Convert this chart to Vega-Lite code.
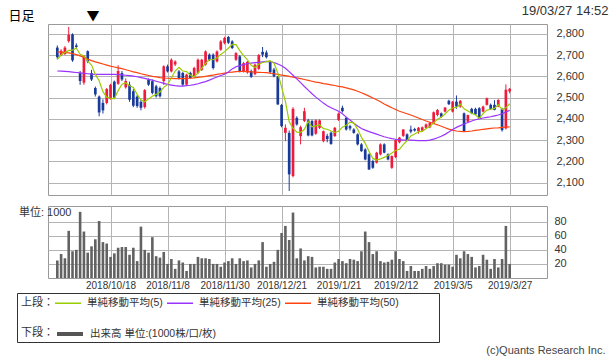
{
"$schema":"https://vega.github.io/schema/vega-lite/v6.json",
"background":"white",
"padding":{"left":7,"top":3,"right":0,"bottom":0},
"bounds":"flush",
"spacing":11,
"title":{"text":"(c)Quants Research Inc.","orient":"bottom","anchor":"end","frame":"bounds","fontSize":11,"fontWeight":"normal","color":"#444","offset":2,"dx":-3,"font":"Liberation Sans"},
"datasets":{"px":[
{"i":0,"d":"2018/09/27","o":2735,"h":2745,"l":2680,"c":2690,"v":25,"m5":2680,"m25":2625,"m50":2715},
{"i":1,"d":"2018/09/28","o":2700,"h":2728,"l":2695,"c":2720,"v":34,"m5":2700,"m25":2624,"m50":2714},
{"i":2,"d":"2018/10/01","o":2705,"h":2742,"l":2700,"c":2735,"v":28,"m5":2712,"m25":2623,"m50":2712},
{"i":3,"d":"2018/10/02","o":2765,"h":2832,"l":2758,"c":2795,"v":67,"m5":2722,"m25":2622,"m50":2710},
{"i":4,"d":"2018/10/03","o":2797,"h":2802,"l":2668,"c":2675,"v":38,"m5":2723,"m25":2620,"m50":2707},
{"i":5,"d":"2018/10/04","o":2745,"h":2755,"l":2728,"c":2738,"v":40,"m5":2733,"m25":2618,"m50":2702},
{"i":6,"d":"2018/10/05","o":2615,"h":2625,"l":2560,"c":2578,"v":94,"m5":2704,"m25":2616,"m50":2696},
{"i":7,"d":"2018/10/09","o":2570,"h":2700,"l":2560,"c":2695,"v":66,"m5":2696,"m25":2614,"m50":2689},
{"i":8,"d":"2018/10/10","o":2718,"h":2722,"l":2662,"c":2670,"v":36,"m5":2671,"m25":2612,"m50":2681},
{"i":9,"d":"2018/10/11","o":2615,"h":2630,"l":2578,"c":2585,"v":45,"m5":2653,"m25":2610,"m50":2674},
{"i":10,"d":"2018/10/12","o":2545,"h":2552,"l":2505,"c":2515,"v":55,"m5":2609,"m25":2609,"m50":2668},
{"i":11,"d":"2018/10/15","o":2505,"h":2510,"l":2412,"c":2430,"v":81,"m5":2579,"m25":2609,"m50":2663},
{"i":12,"d":"2018/10/16","o":2475,"h":2492,"l":2425,"c":2440,"v":51,"m5":2528,"m25":2609,"m50":2658},
{"i":13,"d":"2018/10/17","o":2475,"h":2545,"l":2468,"c":2540,"v":49,"m5":2502,"m25":2609,"m50":2653},
{"i":14,"d":"2018/10/18","o":2495,"h":2565,"l":2490,"c":2560,"v":30,"m5":2497,"m25":2609,"m50":2648},
{"i":15,"d":"2018/10/19","o":2575,"h":2580,"l":2495,"c":2500,"v":35,"m5":2494,"m25":2609,"m50":2644},
{"i":16,"d":"2018/10/22","o":2565,"h":2652,"l":2560,"c":2625,"v":43,"m5":2533,"m25":2608,"m50":2640},
{"i":17,"d":"2018/10/23","o":2615,"h":2625,"l":2578,"c":2585,"v":44,"m5":2562,"m25":2607,"m50":2636},
{"i":18,"d":"2018/10/24","o":2548,"h":2590,"l":2542,"c":2578,"v":44,"m5":2570,"m25":2605,"m50":2631},
{"i":19,"d":"2018/10/25","o":2560,"h":2575,"l":2480,"c":2490,"v":33,"m5":2556,"m25":2603,"m50":2626},
{"i":20,"d":"2018/10/26","o":2530,"h":2540,"l":2455,"c":2462,"v":43,"m5":2548,"m25":2601,"m50":2621},
{"i":21,"d":"2018/10/29","o":2505,"h":2512,"l":2452,"c":2460,"v":24,"m5":2515,"m25":2598,"m50":2617},
{"i":22,"d":"2018/10/30","o":2480,"h":2490,"l":2440,"c":2452,"v":73,"m5":2488,"m25":2594,"m50":2612},
{"i":23,"d":"2018/10/31","o":2455,"h":2540,"l":2448,"c":2535,"v":40,"m5":2480,"m25":2590,"m50":2608},
{"i":24,"d":"2018/11/01","o":2584,"h":2590,"l":2555,"c":2561,"v":36,"m5":2494,"m25":2586,"m50":2604},
{"i":25,"d":"2018/11/02","o":2577,"h":2585,"l":2515,"c":2522,"v":58,"m5":2506,"m25":2582,"m50":2600},
{"i":26,"d":"2018/11/05","o":2553,"h":2560,"l":2500,"c":2506,"v":31,"m5":2515,"m25":2577,"m50":2597},
{"i":27,"d":"2018/11/06","o":2545,"h":2552,"l":2500,"c":2506,"v":29,"m5":2526,"m25":2572,"m50":2594},
{"i":28,"d":"2018/11/07","o":2577,"h":2652,"l":2560,"c":2647,"v":37,"m5":2548,"m25":2567,"m50":2592},
{"i":29,"d":"2018/11/08","o":2647,"h":2655,"l":2618,"c":2623,"v":20,"m5":2561,"m25":2562,"m50":2591},
{"i":30,"d":"2018/11/09","o":2623,"h":2685,"l":2618,"c":2678,"v":27,"m5":2592,"m25":2559,"m50":2590},
{"i":31,"d":"2018/11/12","o":2655,"h":2675,"l":2648,"c":2670,"v":13,"m5":2625,"m25":2556,"m50":2589},
{"i":32,"d":"2018/11/13","o":2623,"h":2630,"l":2585,"c":2592,"v":25,"m5":2642,"m25":2554,"m50":2589},
{"i":33,"d":"2018/11/14","o":2616,"h":2620,"l":2555,"c":2561,"v":22,"m5":2625,"m25":2554,"m50":2589},
{"i":34,"d":"2018/11/15","o":2561,"h":2612,"l":2555,"c":2608,"v":10,"m5":2622,"m25":2556,"m50":2590},
{"i":35,"d":"2018/11/16","o":2616,"h":2622,"l":2588,"c":2592,"v":20,"m5":2605,"m25":2558,"m50":2591},
{"i":36,"d":"2018/11/19","o":2600,"h":2645,"l":2595,"c":2639,"v":20,"m5":2598,"m25":2561,"m50":2593},
{"i":37,"d":"2018/11/20","o":2616,"h":2684,"l":2610,"c":2678,"v":30,"m5":2616,"m25":2565,"m50":2595},
{"i":38,"d":"2018/11/21","o":2631,"h":2682,"l":2625,"c":2678,"v":28,"m5":2639,"m25":2570,"m50":2597},
{"i":39,"d":"2018/11/22","o":2655,"h":2722,"l":2650,"c":2717,"v":28,"m5":2661,"m25":2575,"m50":2600},
{"i":40,"d":"2018/11/26","o":2702,"h":2708,"l":2672,"c":2678,"v":27,"m5":2678,"m25":2582,"m50":2603},
{"i":41,"d":"2018/11/27","o":2702,"h":2708,"l":2632,"c":2639,"v":20,"m5":2678,"m25":2590,"m50":2606},
{"i":42,"d":"2018/11/28","o":2670,"h":2722,"l":2665,"c":2717,"v":20,"m5":2686,"m25":2597,"m50":2609},
{"i":43,"d":"2018/11/29","o":2725,"h":2770,"l":2720,"c":2764,"v":16,"m5":2703,"m25":2604,"m50":2612},
{"i":44,"d":"2018/11/30","o":2756,"h":2786,"l":2750,"c":2780,"v":22,"m5":2716,"m25":2610,"m50":2615},
{"i":45,"d":"2018/12/03","o":2785,"h":2790,"l":2752,"c":2758,"v":24,"m5":2732,"m25":2620,"m50":2618},
{"i":46,"d":"2018/12/04","o":2764,"h":2770,"l":2728,"c":2733,"v":28,"m5":2750,"m25":2635,"m50":2620},
{"i":47,"d":"2018/12/05","o":2678,"h":2714,"l":2672,"c":2709,"v":20,"m5":2749,"m25":2645,"m50":2622},
{"i":48,"d":"2018/12/06","o":2694,"h":2700,"l":2618,"c":2623,"v":28,"m5":2721,"m25":2650,"m50":2623},
{"i":49,"d":"2018/12/07","o":2623,"h":2668,"l":2618,"c":2662,"v":24,"m5":2697,"m25":2655,"m50":2623},
{"i":50,"d":"2018/12/10","o":2618,"h":2672,"l":2612,"c":2668,"v":25,"m5":2679,"m25":2660,"m50":2622},
{"i":51,"d":"2018/12/11","o":2625,"h":2632,"l":2592,"c":2598,"v":15,"m5":2652,"m25":2662,"m50":2621},
{"i":52,"d":"2018/12/12","o":2610,"h":2660,"l":2605,"c":2655,"v":20,"m5":2641,"m25":2664,"m50":2620},
{"i":53,"d":"2018/12/13","o":2635,"h":2705,"l":2630,"c":2700,"v":25,"m5":2657,"m25":2666,"m50":2619},
{"i":54,"d":"2018/12/14","o":2715,"h":2738,"l":2690,"c":2702,"v":51,"m5":2665,"m25":2668,"m50":2618},
{"i":55,"d":"2018/12/17","o":2712,"h":2722,"l":2684,"c":2690,"v":16,"m5":2669,"m25":2670,"m50":2617},
{"i":56,"d":"2018/12/18","o":2668,"h":2675,"l":2612,"c":2620,"v":20,"m5":2673,"m25":2669,"m50":2615},
{"i":57,"d":"2018/12/19","o":2632,"h":2640,"l":2595,"c":2600,"v":23,"m5":2662,"m25":2665,"m50":2612},
{"i":58,"d":"2018/12/20","o":2598,"h":2602,"l":2465,"c":2468,"v":40,"m5":2616,"m25":2658,"m50":2609},
{"i":59,"d":"2018/12/21","o":2465,"h":2470,"l":2360,"c":2366,"v":64,"m5":2549,"m25":2650,"m50":2606},
{"i":60,"d":"2018/12/25","o":2334,"h":2374,"l":2295,"c":2358,"v":74,"m5":2482,"m25":2638,"m50":2603},
{"i":61,"d":"2018/12/26","o":2334,"h":2345,"l":2061,"c":2139,"v":54,"m5":2386,"m25":2622,"m50":2600},
{"i":62,"d":"2018/12/27","o":2131,"h":2455,"l":2125,"c":2447,"v":93,"m5":2356,"m25":2605,"m50":2596},
{"i":63,"d":"2018/12/28","o":2405,"h":2412,"l":2368,"c":2374,"v":28,"m5":2337,"m25":2588,"m50":2593},
{"i":64,"d":"2019/01/04","o":2319,"h":2368,"l":2280,"c":2361,"v":42,"m5":2336,"m25":2570,"m50":2589},
{"i":65,"d":"2019/01/07","o":2390,"h":2452,"l":2385,"c":2436,"v":25,"m5":2351,"m25":2552,"m50":2585},
{"i":66,"d":"2019/01/08","o":2393,"h":2400,"l":2318,"c":2322,"v":31,"m5":2388,"m25":2535,"m50":2581},
{"i":67,"d":"2019/01/09","o":2390,"h":2396,"l":2318,"c":2322,"v":30,"m5":2363,"m25":2518,"m50":2577},
{"i":68,"d":"2019/01/10","o":2330,"h":2398,"l":2325,"c":2393,"v":15,"m5":2367,"m25":2502,"m50":2573},
{"i":69,"d":"2019/01/11","o":2358,"h":2398,"l":2352,"c":2393,"v":16,"m5":2373,"m25":2488,"m50":2570},
{"i":70,"d":"2019/01/15","o":2295,"h":2345,"l":2290,"c":2342,"v":16,"m5":2354,"m25":2474,"m50":2566},
{"i":71,"d":"2019/01/16","o":2320,"h":2330,"l":2290,"c":2305,"v":13,"m5":2351,"m25":2462,"m50":2563},
{"i":72,"d":"2019/01/17","o":2335,"h":2340,"l":2278,"c":2282,"v":13,"m5":2343,"m25":2452,"m50":2560},
{"i":73,"d":"2019/01/18","o":2319,"h":2362,"l":2315,"c":2358,"v":22,"m5":2336,"m25":2444,"m50":2557},
{"i":74,"d":"2019/01/21","o":2395,"h":2430,"l":2390,"c":2425,"v":27,"m5":2342,"m25":2436,"m50":2553},
{"i":75,"d":"2019/01/22","o":2452,"h":2462,"l":2430,"c":2436,"v":24,"m5":2361,"m25":2424,"m50":2550},
{"i":76,"d":"2019/01/23","o":2405,"h":2410,"l":2345,"c":2350,"v":21,"m5":2370,"m25":2408,"m50":2546},
{"i":77,"d":"2019/01/24","o":2366,"h":2372,"l":2345,"c":2355,"v":27,"m5":2385,"m25":2395,"m50":2541},
{"i":78,"d":"2019/01/25","o":2350,"h":2356,"l":2330,"c":2334,"v":26,"m5":2380,"m25":2380,"m50":2536},
{"i":79,"d":"2019/01/28","o":2327,"h":2332,"l":2275,"c":2280,"v":24,"m5":2351,"m25":2366,"m50":2530},
{"i":80,"d":"2019/01/29","o":2280,"h":2286,"l":2245,"c":2248,"v":38,"m5":2313,"m25":2355,"m50":2523},
{"i":81,"d":"2019/01/30","o":2256,"h":2262,"l":2205,"c":2209,"v":66,"m5":2285,"m25":2347,"m50":2515},
{"i":82,"d":"2019/01/31","o":2233,"h":2238,"l":2160,"c":2162,"v":51,"m5":2247,"m25":2340,"m50":2507},
{"i":83,"d":"2019/02/01","o":2202,"h":2208,"l":2165,"c":2170,"v":34,"m5":2214,"m25":2334,"m50":2498},
{"i":84,"d":"2019/02/04","o":2194,"h":2245,"l":2190,"c":2241,"v":38,"m5":2206,"m25":2328,"m50":2490},
{"i":85,"d":"2019/02/05","o":2233,"h":2285,"l":2228,"c":2280,"v":24,"m5":2212,"m25":2322,"m50":2480},
{"i":86,"d":"2019/02/06","o":2280,"h":2285,"l":2238,"c":2241,"v":22,"m5":2219,"m25":2316,"m50":2470},
{"i":87,"d":"2019/02/07","o":2233,"h":2238,"l":2205,"c":2209,"v":23,"m5":2228,"m25":2311,"m50":2461},
{"i":88,"d":"2019/02/08","o":2170,"h":2228,"l":2165,"c":2225,"v":26,"m5":2239,"m25":2307,"m50":2452},
{"i":89,"d":"2019/02/12","o":2220,"h":2305,"l":2215,"c":2300,"v":38,"m5":2251,"m25":2304,"m50":2444},
{"i":90,"d":"2019/02/13","o":2290,"h":2315,"l":2285,"c":2312,"v":27,"m5":2257,"m25":2302,"m50":2436},
{"i":91,"d":"2019/02/14","o":2320,"h":2352,"l":2315,"c":2350,"v":24,"m5":2279,"m25":2300,"m50":2430},
{"i":92,"d":"2019/02/15","o":2327,"h":2332,"l":2298,"c":2300,"v":10,"m5":2297,"m25":2300,"m50":2424},
{"i":93,"d":"2019/02/18","o":2350,"h":2368,"l":2332,"c":2340,"v":17,"m5":2320,"m25":2300,"m50":2418},
{"i":94,"d":"2019/02/19","o":2352,"h":2358,"l":2340,"c":2345,"v":10,"m5":2329,"m25":2299,"m50":2411},
{"i":95,"d":"2019/02/20","o":2342,"h":2362,"l":2330,"c":2358,"v":10,"m5":2339,"m25":2298,"m50":2404},
{"i":96,"d":"2019/02/21","o":2345,"h":2364,"l":2340,"c":2360,"v":13,"m5":2341,"m25":2298,"m50":2397},
{"i":97,"d":"2019/02/22","o":2358,"h":2378,"l":2352,"c":2374,"v":17,"m5":2355,"m25":2298,"m50":2390},
{"i":98,"d":"2019/02/25","o":2360,"h":2385,"l":2356,"c":2381,"v":13,"m5":2364,"m25":2300,"m50":2384},
{"i":99,"d":"2019/02/26","o":2379,"h":2435,"l":2375,"c":2431,"v":17,"m5":2381,"m25":2305,"m50":2378},
{"i":100,"d":"2019/02/27","o":2418,"h":2446,"l":2412,"c":2442,"v":21,"m5":2398,"m25":2311,"m50":2372},
{"i":101,"d":"2019/02/28","o":2426,"h":2430,"l":2405,"c":2410,"v":21,"m5":2408,"m25":2318,"m50":2365},
{"i":102,"d":"2019/03/01","o":2434,"h":2456,"l":2430,"c":2453,"v":19,"m5":2423,"m25":2327,"m50":2358},
{"i":103,"d":"2019/03/04","o":2485,"h":2490,"l":2465,"c":2469,"v":19,"m5":2441,"m25":2338,"m50":2352},
{"i":104,"d":"2019/03/05","o":2434,"h":2484,"l":2430,"c":2481,"v":16,"m5":2451,"m25":2350,"m50":2347},
{"i":105,"d":"2019/03/06","o":2481,"h":2510,"l":2447,"c":2458,"v":33,"m5":2454,"m25":2360,"m50":2343},
{"i":106,"d":"2019/03/07","o":2458,"h":2488,"l":2452,"c":2485,"v":28,"m5":2469,"m25":2368,"m50":2341},
{"i":107,"d":"2019/03/08","o":2426,"h":2430,"l":2340,"c":2343,"v":38,"m5":2447,"m25":2376,"m50":2340},
{"i":108,"d":"2019/03/11","o":2387,"h":2420,"l":2382,"c":2418,"v":34,"m5":2437,"m25":2383,"m50":2341},
{"i":109,"d":"2019/03/12","o":2447,"h":2452,"l":2422,"c":2426,"v":30,"m5":2426,"m25":2390,"m50":2343},
{"i":110,"d":"2019/03/13","o":2447,"h":2452,"l":2418,"c":2421,"v":15,"m5":2419,"m25":2396,"m50":2346},
{"i":111,"d":"2019/03/14","o":2450,"h":2455,"l":2400,"c":2403,"v":17,"m5":2402,"m25":2400,"m50":2348},
{"i":112,"d":"2019/03/15","o":2434,"h":2462,"l":2430,"c":2458,"v":33,"m5":2425,"m25":2404,"m50":2351},
{"i":113,"d":"2019/03/18","o":2466,"h":2500,"l":2462,"c":2497,"v":26,"m5":2441,"m25":2407,"m50":2353},
{"i":114,"d":"2019/03/19","o":2466,"h":2472,"l":2442,"c":2447,"v":13,"m5":2445,"m25":2410,"m50":2355},
{"i":115,"d":"2019/03/20","o":2466,"h":2488,"l":2440,"c":2442,"v":27,"m5":2449,"m25":2414,"m50":2357},
{"i":116,"d":"2019/03/22","o":2458,"h":2492,"l":2455,"c":2489,"v":15,"m5":2467,"m25":2418,"m50":2358},
{"i":117,"d":"2019/03/25","o":2447,"h":2452,"l":2340,"c":2347,"v":27,"m5":2444,"m25":2424,"m50":2360},
{"i":118,"d":"2019/03/26","o":2355,"h":2562,"l":2350,"c":2537,"v":74,"m5":2452,"m25":2432,"m50":2361},
{"i":119,"d":"2019/03/27","o":2529,"h":2545,"l":2520,"c":2541,"v":20,"m5":2471,"m25":2440,"m50":2362}
]},
"vconcat":[
{
"width":499,"height":171,
"data":{"name":"px"},
"encoding":{"x":{"field":"i","type":"quantitative","scale":{"domain":[-1.134,127.5],"nice":false,"zero":false},
 "axis":{"values":[14,29,44,59,74,89,104,119],"labels":false,"ticks":false,"domain":false,"grid":true,
  "title":"日足　　　　▼","titleX":-40,"titleY":-186,"titleAlign":"left","titleBaseline":"top","titleAngle":0,"titleFontSize":13,"titleFontWeight":"normal","titleColor":"#000","titleFont":"Noto Sans CJK JP"}}},
"layer":[
{"mark":{"type":"rule","strokeWidth":1},
 "encoding":{"y":{"field":"l","type":"quantitative","scale":{"domain":[2042,2846],"nice":false,"zero":false},
   "axis":{"orient":"right","values":[2100,2200,2300,2400,2500,2600,2700,2800],"labelExpr":"format(datum.value, ',')","labelOverlap":false,"grid":true,"ticks":false,"domain":false,"labelPadding":9,"labelFontSize":11,"title":"19/03/27 14:52","titleAngle":0,"titleAlign":"right","titleBaseline":"top","titleX":61,"titleY":-20,"titleFontSize":13,"titleFontWeight":"normal","titleColor":"#333","titleFont":"Liberation Sans"}},
  "y2":{"field":"h"},
  "color":{"condition":{"test":"datum.c >= datum.o","value":"#ee1c3c"},"value":"#1a3a9a"}}},
{"mark":{"type":"bar","size":2.7},
 "encoding":{"y":{"field":"o","type":"quantitative",
   "axis":{"orient":"right","values":[2100,2200,2300,2400,2500,2600,2700,2800],"labelExpr":"format(datum.value, ',')","labelOverlap":false,"grid":true,"ticks":false,"domain":false,"labelPadding":9,"labelFontSize":11,"title":"19/03/27 14:52","titleAngle":0,"titleAlign":"right","titleBaseline":"top","titleX":61,"titleY":-20,"titleFontSize":13,"titleFontWeight":"normal","titleColor":"#333","titleFont":"Liberation Sans"}},
  "y2":{"field":"c"},
  "color":{"condition":{"test":"datum.c >= datum.o","value":"#ee1c3c"},"value":"#1a3a9a"}}},
{"mark":{"type":"line","strokeWidth":1.2},
 "encoding":{"y":{"field":"m50","type":"quantitative",
   "axis":{"orient":"right","values":[2100,2200,2300,2400,2500,2600,2700,2800],"labelExpr":"format(datum.value, ',')","labelOverlap":false,"grid":true,"ticks":false,"domain":false,"labelPadding":9,"labelFontSize":11,"title":"19/03/27 14:52","titleAngle":0,"titleAlign":"right","titleBaseline":"top","titleX":61,"titleY":-20,"titleFontSize":13,"titleFontWeight":"normal","titleColor":"#333","titleFont":"Liberation Sans"}},
  "color":{"datum":"単純移動平均(50)","type":"nominal",
   "scale":{"domain":["単純移動平均(5)","単純移動平均(25)","単純移動平均(50)","\u3000\u3000\u3000\u3000\u3000\u3000\u3000\u3000\u3000\u3000\u3000\u3000\u3000\u3000"],"range":["#99cc00","#9933ff","#ff4411","transparent"]}}}},
{"mark":{"type":"line","strokeWidth":1.2},
 "encoding":{"y":{"field":"m25","type":"quantitative",
   "axis":{"orient":"right","values":[2100,2200,2300,2400,2500,2600,2700,2800],"labelExpr":"format(datum.value, ',')","labelOverlap":false,"grid":true,"ticks":false,"domain":false,"labelPadding":9,"labelFontSize":11,"title":"19/03/27 14:52","titleAngle":0,"titleAlign":"right","titleBaseline":"top","titleX":61,"titleY":-20,"titleFontSize":13,"titleFontWeight":"normal","titleColor":"#333","titleFont":"Liberation Sans"}},
  "color":{"datum":"単純移動平均(25)","type":"nominal",
   "scale":{"domain":["単純移動平均(5)","単純移動平均(25)","単純移動平均(50)","\u3000\u3000\u3000\u3000\u3000\u3000\u3000\u3000\u3000\u3000\u3000\u3000\u3000\u3000"],"range":["#99cc00","#9933ff","#ff4411","transparent"]}}}},
{"mark":{"type":"line","strokeWidth":1.2},
 "encoding":{"y":{"field":"m5","type":"quantitative",
   "axis":{"orient":"right","values":[2100,2200,2300,2400,2500,2600,2700,2800],"labelExpr":"format(datum.value, ',')","labelOverlap":false,"grid":true,"ticks":false,"domain":false,"labelPadding":9,"labelFontSize":11,"title":"19/03/27 14:52","titleAngle":0,"titleAlign":"right","titleBaseline":"top","titleX":61,"titleY":-20,"titleFontSize":13,"titleFontWeight":"normal","titleColor":"#333","titleFont":"Liberation Sans"}},
  "color":{"datum":"単純移動平均(5)","type":"nominal",
   "scale":{"domain":["単純移動平均(5)","単純移動平均(25)","単純移動平均(50)","\u3000\u3000\u3000\u3000\u3000\u3000\u3000\u3000\u3000\u3000\u3000\u3000\u3000\u3000"],"range":["#99cc00","#9933ff","#ff4411","transparent"]},
   "legend":{"orient":"none","legendX":-31,"legendY":269,"direction":"horizontal",
     "title":["上段：","下段："],"titleOrient":"left","titleAnchor":"start","titleBaseline":"top","titleLineHeight":30,"titleFontSize":11,"titleFontWeight":"normal","titleColor":"#333","titlePadding":0,
     "columnPadding":1,
     "symbolType":"M-1,0H4.2","symbolSize":100,"symbolStrokeWidth":1.5,
     "labelOffset":21,"labelFontSize":10.5,"labelColor":"#333","labelLimit":300,
     "strokeColor":"#333","padding":4,
     "encode":{"symbols":{"update":{"stroke":{"scale":"color","field":"value"},"fill":{"value":"transparent"},"strokeWidth":{"value":1.5}}}}}}}}
]
},
{
"width":499,"height":72,
"data":{"name":"px"},
"mark":{"type":"bar","size":2.6},
"encoding":{
 "x":{"field":"i","type":"quantitative","scale":{"domain":[-1.134,127.5],"nice":false,"zero":false},
  "axis":{"values":[14,29,44,59,74,89,104,119],"grid":true,"ticks":false,"domain":false,"labelFlush":false,"labelOverlap":false,"labelFontSize":10,"labelPadding":2,"title":null,
   "labelExpr":"datum.value == 14 ? '2018/10/18' : datum.value == 29 ? '2018/11/8' : datum.value == 44 ? '2018/11/30' : datum.value == 59 ? '2018/12/21' : datum.value == 74 ? '2019/1/21' : datum.value == 89 ? '2019/2/12' : datum.value == 104 ? '2019/3/5' : '2019/3/27'"}},
 "y":{"field":"v","type":"quantitative","scale":{"domain":[0,102.3],"nice":false,"zero":true},
  "axis":{"orient":"right","values":[20,40,60,80],"labelOverlap":false,"grid":true,"ticks":false,"domain":false,"labelPadding":7,"labelFontSize":11,"title":"単位: 1000","titleAngle":0,"titleAlign":"right","titleBaseline":"middle","titleX":-476,"titleY":6,"titleFontSize":11,"titleFontWeight":"normal","titleColor":"#333"}},
 "fill":{"datum":"出来高 単位:(1000株/口/枚)","type":"nominal",
   "scale":{"domain":["出来高 単位:(1000株/口/枚)"],"range":["#626262"]},
   "legend":{"orient":"none","legendX":7,"legendY":303,"title":null,"direction":"horizontal","padding":0,"zindex":2,
     "symbolType":"M-1,0H4.2","symbolSize":100,
     "labelOffset":21,"labelFontSize":10.5,"labelColor":"#333","labelLimit":300,
     "encode":{"symbols":{"update":{"stroke":{"value":"#555555"},"fill":{"value":"transparent"},"strokeWidth":{"value":4}}}}}}
}
}
],
"resolve":{"scale":{"color":"shared","fill":"shared"},"legend":{"color":"shared","fill":"shared"}},
"config":{
 "font":"Liberation Sans, Noto Sans CJK JP",
 "view":{"stroke":"#999","strokeWidth":1},
 "axis":{"gridColor":"#b4b4b4","gridWidth":1,"labelColor":"#333","labelFont":"Liberation Sans, Noto Sans CJK JP","titleFont":"Liberation Sans, Noto Sans CJK JP"},
 "legend":{"labelFont":"Liberation Sans, Noto Sans CJK JP","titleFont":"Liberation Sans, Noto Sans CJK JP"}
}
}
